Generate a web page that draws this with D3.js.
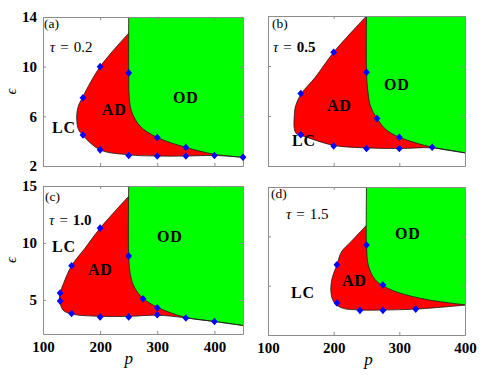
<!DOCTYPE html>
<html><head><meta charset="utf-8">
<script src="https://cdn.jsdelivr.net/npm/d3@7"></script>
<style>body{margin:0;background:#fff}svg{display:block}</style>
</head><body><svg id="chart" width="491" height="382"></svg>
<script>
// ---------- data (p, epsilon) ----------
const adCurveA = [[250,12.7],[200,10],[170,7.6],[161,6.7],[159,5.8],[162,4.95],[170,4.45],[200,3.3],[250,2.9],[300,2.8],[350,2.8],[400,2.85],[450,2.7]];
const odCurveA = [[250,14],[250,9.5],[251,7.5],[255,6.4],[270,5.2],[300,4.3],[350,3.5],[400,2.95],[450,2.7]];
const markersA = [[200,10],[250,9.5],[170,7.5],[170,4.5],[200,3.3],[250,2.85],[300,4.3],[300,2.8],[350,3.5],[350,2.8],[400,2.85],[450,2.7]];

const adCurveB = [[250,14],[200,11.1],[172,9.1],[151,7.8],[142,6.8],[140,6.0],[140,5.0],[143,4.6],[151,4.45],[200,3.65],[250,3.45],[300,3.4],[350,3.45],[400,3.05]];
const odCurveB = [[250,14],[250,9.5],[252,8.0],[256,6.8],[266,5.8],[280,4.9],[300,4.3],[350,3.5],[400,3.05]];
const markersB = [[200,11.1],[250,9.5],[150,7.8],[266,5.8],[150,4.5],[200,3.6],[250,3.4],[300,4.3],[300,3.4],[350,3.5]];

const adCurveC = [[250,14.1],[200,11.3],[173,9.5],[150,8.0],[136,6.45],[130,5.6],[129,5.0],[135,4.1],[150,3.76],[200,3.55],[250,3.55],[300,3.65],[350,3.42],[400,3.1],[450,2.75]];
const odCurveC = [[250,15],[250,8.85],[253,7.2],[258,6.3],[265,5.7],[276,5.1],[300,4.35],[350,3.45],[400,3.1],[450,2.75]];
const markersC = [[200,11.3],[250,8.85],[150,8.0],[130,5.6],[130,4.9],[150,3.8],[200,3.5],[250,3.5],[275,5.1],[300,4.3],[300,3.7],[350,3.4],[400,3.1]];

const adCurveD = [[250,10.9],[227,9.6],[212,8.75],[205,7.7],[197,6.46],[196,5.4],[200,4.7],[212,4.2],[240,4.03],[275,4.03],[325,4.1],[400,4.42]];
const odCurveD = [[250,14],[250,9.3],[253,7.6],[263,6.5],[275,6.0],[298,5.45],[344,4.85],[400,4.45]];
const markersD = [[250,9.3],[205,7.7],[275,6.05],[205,4.6],[240,4.0],[275,4.0],[325,4.1]];

// tick values / labels
const xTicksAC = [100,200,300,400];
const xTicksBD = [100,200,300,400];
const yTicksABD = [2,6,10,14];
const yTicksC = [5,10,15];
const xDomainAC = [100,450];
const xDomainBD = [100,400];
const yDomainABD = [2,14];
const yDomainC = [2,15];

// annotations: [text, p, eps]
const panelLetters = ["(a)","(b)","(c)","(d)"];
const tauValues = ["0.2","0.5","1.0","1.5"];
const tauBold = [false,true,true,false];
const tauPos = [[112,11.18],[107.6,11.12],[110.5,11.57],[127.4,11.4]];
const letterPos = [[101.8,13.1],[106,13.05],[103.5,13.7],[104.6,13.1]];
const regionLabelsA = [["LC",115.8,4.66],["AD",203,6.11],["OD",327.5,7.07]];
const regionLabelsB = [["OD",276.6,8.08],["AD",189.8,6.4],["LC",136.5,3.6]];
const regionLabelsC = [["LC",115.8,9.2],["AD",178.8,7.18],["OD",299.5,10.08]];
const regionLabelsD = [["OD",293.4,9.78],["AD",212.7,5.97],["LC",135,5.0]];

// ---------- drawing ----------
const svg = d3.select("#chart");
const SERIF = "'Liberation Serif','DejaVu Serif',serif";
const BOX = "#8c8c8c";

const panels = [
  {ad:adCurveA, od:odCurveA, mk:markersA, xd:xDomainAC, yd:yDomainABD, xt:xTicksAC, yt:yTicksABD, box:[43,243,17,166], xl:false, yl:true, labels:regionLabelsA},
  {ad:adCurveB, od:odCurveB, mk:markersB, xd:xDomainBD, yd:yDomainABD, xt:xTicksBD, yt:yTicksABD, box:[268,465,16,166], xl:false, yl:false, labels:regionLabelsB},
  {ad:adCurveC, od:odCurveC, mk:markersC, xd:xDomainAC, yd:yDomainC, xt:xTicksAC, yt:yTicksC, box:[43,243,186,334], xl:true, yl:true, labels:regionLabelsC},
  {ad:adCurveD, od:odCurveD, mk:markersD, xd:xDomainBD, yd:yDomainABD, xt:xTicksBD, yt:yTicksABD, box:[268,465,187,335], xl:true, yl:false, labels:regionLabelsD}
];

panels.forEach((P, i) => {
  const [L,R,T,B] = P.box;
  const x = d3.scaleLinear().domain(P.xd).range([L,R]);
  const y = d3.scaleLinear().domain(P.yd).range([B,T]);
  const line = d3.line().x(d=>x(d[0])).y(d=>y(d[1])).curve(d3.curveCatmullRom.alpha(0.5));
  const g = svg.append("g");
  const cid = "clip"+i;
  g.append("clipPath").attr("id",cid).append("rect").attr("x",L).attr("y",T).attr("width",R-L).attr("height",B-T);
  const fillG = g.append("g").attr("clip-path",`url(#${cid})`);
  const xmax = P.xd[1], ymax = P.yd[1], pv = P.od[0][0];
  // AD region (red)
  fillG.append("path")
    .attr("d", line(P.ad) + `L${x(xmax)},${y(ymax)}L${x(pv)},${y(ymax)}Z`)
    .attr("fill","#ff0000");
  // OD region (green)
  fillG.append("path")
    .attr("d", line(P.od) + `L${x(xmax)},${y(ymax)}Z`)
    .attr("fill","#00ff00");
  // boundaries
  fillG.append("path").attr("d", line(P.ad)).attr("fill","none").attr("stroke","#1a1a1a").attr("stroke-width",0.8);
  fillG.append("path").attr("d", line(P.od)).attr("fill","none").attr("stroke","#1a1a1a").attr("stroke-width",0.8);

  // axes
  const ax = (gen, tr) => {
    const a = g.append("g").attr("transform",tr).call(gen);
    a.selectAll("path.domain").attr("stroke",BOX);
    a.selectAll(".tick line").attr("stroke",BOX);
    a.selectAll("text").attr("font-family",SERIF).attr("font-weight","bold").attr("font-size",15).attr("fill","#000");
    return a;
  };
  ax(d3.axisBottom(x).tickValues(P.xt).tickSizeInner(-3).tickSizeOuter(0).tickPadding(7.5)
       .tickFormat(P.xl ? d3.format("d") : ""), `translate(0,${B})`);
  ax(d3.axisTop(x).tickValues(P.xt).tickSizeInner(-3).tickSizeOuter(0).tickFormat(""), `translate(0,${T})`);
  ax(d3.axisLeft(y).tickValues(P.yt).tickSizeInner(-3).tickSizeOuter(0).tickPadding(6)
       .tickFormat(P.yl ? d3.format("d") : ""), `translate(${L},0)`);
  ax(d3.axisRight(y).tickValues(P.yt).tickSizeInner(-3).tickSizeOuter(0).tickFormat(""), `translate(${R},0)`);

  // markers
  g.append("g").selectAll("path").data(P.mk).join("path")
    .attr("transform", d => `translate(${x(d[0])},${y(d[1])})`)
    .attr("d","M0,-3.8L3.4,0L0,3.8L-3.4,0Z")
    .attr("fill","#0000ff");

  // panel letter
  g.append("text").attr("x",x(letterPos[i][0])).attr("y",y(letterPos[i][1]))
    .attr("font-family",SERIF).attr("font-size",13.5).text(panelLetters[i]);
  // tau
  const tt = g.append("text").attr("x",x(tauPos[i][0])).attr("y",y(tauPos[i][1]))
    .attr("font-family",SERIF).attr("font-size",15);
  tt.append("tspan").attr("font-style","italic").text("τ");
  tt.append("tspan").attr("dx",5).text("=");
  tt.append("tspan").attr("dx",5).attr("font-weight",tauBold[i]?"bold":"normal").text(tauValues[i]);
  // region labels
  g.append("g").selectAll("text").data(P.labels).join("text")
    .attr("x",d=>x(d[1])).attr("y",d=>y(d[2]))
    .attr("font-family",SERIF).attr("font-weight","bold").attr("font-size",16)
    .attr("letter-spacing",0.8)
    .text(d=>d[0]);

  // axis titles
  if (P.yl) {
    g.append("text").attr("transform",`translate(${L-27},${(T+B)/2}) rotate(-90)`)
      .attr("text-anchor","middle").attr("font-family",SERIF).attr("font-style","italic")
      .attr("font-size",15).text("ϵ");
  }
  if (P.xl) {
    g.append("text").attr("x", i===2 ? x(250) : (L+R)/2 + 2).attr("y",B+30)
      .attr("text-anchor","middle").attr("font-family",SERIF).attr("font-style","italic")
      .attr("font-size",17).text("p");
  }
});
</script>
</body></html>
